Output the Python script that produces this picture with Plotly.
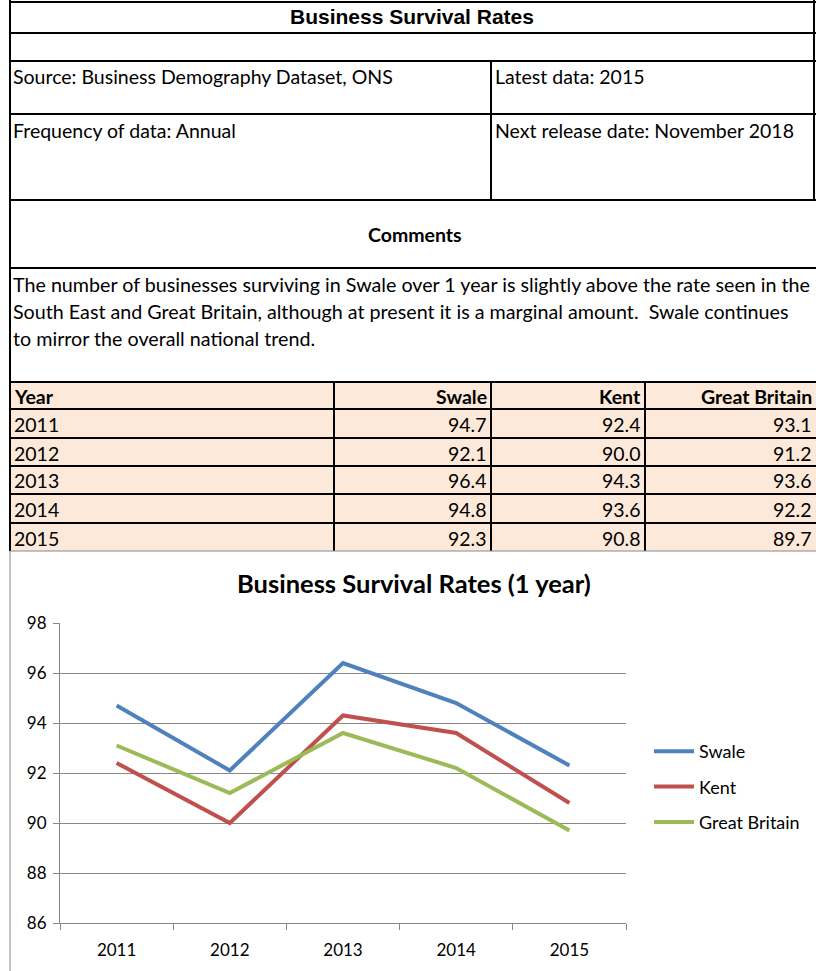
import plotly.graph_objects as go

W, H = 816, 971

# ---------------- data ----------------
years = ["2011", "2012", "2013", "2014", "2015"]
swale = [94.7, 92.1, 96.4, 94.8, 92.3]
kent = [92.4, 90.0, 94.3, 93.6, 90.8]
great_britain = [93.1, 91.2, 93.6, 92.2, 89.7]
series_names = ["Swale", "Kent", "Great Britain"]
table_header = ["Year", "Swale", "Kent", "Great Britain"]
y_ticks = [86, 88, 90, 92, 94, 96, 98]

page_title = "Business Survival Rates"
source_text = "Source: Business Demography Dataset, ONS"
latest_text = "Latest data: 2015"
frequency_text = "Frequency of data: Annual"
next_release_text = "Next release date: November 2018"
comments_title = "Comments"
comment_lines = [
    "The number of businesses surviving in Swale over 1 year is slightly above the rate seen in the",
    "South East and Great Britain, although at present it is a marginal amount.  Swale continues",
    "to mirror the overall national trend.",
]
chart_title = "Business Survival Rates (1 year)"

# ---------------- helpers ----------------
def xp(x):
    return x / W

def yp(y):
    return 1 - y / H

BODY = "Lato, Carlito, Calibri, sans-serif"
ARIAL = "Liberation Sans, Arial, sans-serif"
FS = 19.5

fig = go.Figure()

colors = ["#4F81BD", "#C0504D", "#9BBB59"]
for i, (name, vals) in enumerate(zip(series_names, [swale, kent, great_britain])):
    fig.add_trace(go.Scatter(
        x=years, y=vals, mode="lines", name=name,
        line=dict(color=colors[i], width=4),
        legendgroup=name, showlegend=True,
    ))

shapes = []
annotations = []

def hline(y, x0, x1, color="black", width=2):
    shapes.append(dict(type="line", xref="paper", yref="paper",
                       x0=xp(x0), x1=xp(x1), y0=yp(y), y1=yp(y),
                       line=dict(color=color, width=width)))

def vline(x, y0, y1, color="black", width=2):
    shapes.append(dict(type="line", xref="paper", yref="paper",
                       x0=xp(x), x1=xp(x), y0=yp(y0), y1=yp(y1),
                       line=dict(color=color, width=width)))

def text(x, y, s, size=FS, family=BODY, xanchor="left", bold=False):
    annotations.append(dict(
        xref="paper", yref="paper", x=xp(x), y=yp(y),
        text=("<b>%s</b>" % s) if bold else s, showarrow=False,
        xanchor=xanchor, yanchor="middle",
        font=dict(family=family, size=size, color="black"),
    ))

# ---------- data table (built from the arrays) ----------
fill = "#FDE9D9"
row_edges = [382, 409, 438, 466, 494, 523, 551]
col_edges = [10, 334, 491, 645, 816]
shapes.append(dict(type="rect", xref="paper", yref="paper", layer="below",
                   x0=xp(col_edges[0]), x1=xp(col_edges[-1]),
                   y0=yp(row_edges[-1]), y1=yp(row_edges[0]),
                   fillcolor=fill, line=dict(width=0)))
for y in row_edges[:-1]:
    hline(y, col_edges[0], col_edges[-1])
for x in col_edges[1:-1]:
    vline(x, row_edges[0], row_edges[-1])

columns = [years,
           ["%.1f" % v for v in swale],
           ["%.1f" % v for v in kent],
           ["%.1f" % v for v in great_britain]]
for c, head in enumerate(table_header):
    if c == 0:
        xpos, anch = col_edges[0] + 2, "left"
    else:
        xpos, anch = col_edges[c + 1] - 2, "right"
    yc = (row_edges[0] + row_edges[1]) / 2 + 1
    text(xpos, yc, head, xanchor=anch, bold=True)
    for r, val in enumerate(columns[c]):
        yc = (row_edges[r + 1] + row_edges[r + 2]) / 2 + 1
        text(xpos, yc, val, xanchor=anch)

# ---------- info block borders ----------
for y in [2, 33, 61, 114, 200, 268]:
    hline(y, 10, 816)
vline(10, 0, 551)
vline(814, 0, 200)
vline(491, 61, 200)
# chart area border
hline(551, 10, 816, color="#888888", width=1)
vline(10, 551, 971, color="#888888", width=1)

text(412, 17, page_title, size=21, family=ARIAL, xanchor="center", bold=True)
text(11, 77, source_text)
text(493, 77, latest_text)
text(11, 130, frequency_text)
text(493, 130, next_release_text)
text(415, 235, comments_title, xanchor="center", bold=True)
for i, line in enumerate(comment_lines):
    text(11, 284 + 27 * i, line, size=19.7)
text(414, 583, chart_title, size=25.5, xanchor="center", bold=True)

fig.update_layout(
    width=W, height=H,
    margin=dict(l=0, r=0, t=0, b=0, pad=0, autoexpand=False),
    paper_bgcolor="white", plot_bgcolor="white",
    shapes=shapes, annotations=annotations,
    showlegend=True,
    legend=dict(
        x=xp(649), y=yp(787), xanchor="left", yanchor="middle",
        font=dict(family=BODY, size=18, color="black"),
        tracegroupgap=9, bgcolor="rgba(0,0,0,0)",
        itemwidth=40,
    ),
    xaxis=dict(
        domain=[xp(60), xp(626)], type="category",
        range=[-0.5, 4.5], tickson="boundaries",
        ticks="outside", ticklen=6, tickcolor="#888888",
        showline=True, linecolor="#888888", linewidth=1,
        showgrid=False, zeroline=False, automargin=False,
        ticklabelstandoff=12,
        tickfont=dict(family=BODY, size=17, color="black"),
        anchor="y",
    ),
    yaxis=dict(
        domain=[yp(923), yp(623)], range=[86, 98],
        tickvals=y_ticks,
        ticks="outside", ticklen=6, tickcolor="#888888",
        showline=True, linecolor="#888888", linewidth=1,
        showgrid=True, gridcolor="#888888", gridwidth=1,
        zeroline=False, automargin=False,
        ticklabelstandoff=3,
        tickfont=dict(family=BODY, size=17, color="black"),
        anchor="x",
    ),
)

fig.write_html(
    "out.html",
    config={"displayModeBar": False},
    post_script="document.body.style.margin='0';document.body.style.overflow='hidden';",
)
